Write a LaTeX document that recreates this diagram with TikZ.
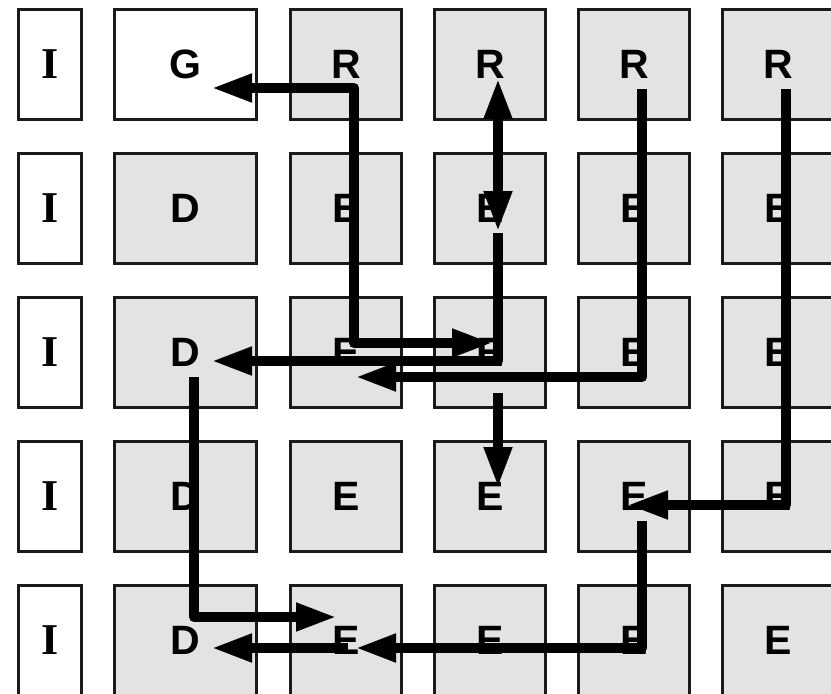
\documentclass[tikz,border=0pt]{standalone}
\usepackage{fontspec}
\setmainfont{Liberation Serif}
\newfontfamily\cellsans{Liberation Sans}
\usetikzlibrary{arrows.meta}
\definecolor{cellgray}{HTML}{E3E3E3}
\definecolor{edgec}{HTML}{1A1A1A}
\tikzset{
  cell/.style={draw=edgec, line width=2.6pt, fill=cellgray, minimum width=111.5pt,
    minimum height=110.5pt, inner sep=0pt, font=\cellsans\bfseries\fontsize{41}{41}\selectfont},
  widecell/.style={cell, minimum width=142.5pt},
  icell/.style={cell, fill=white, minimum width=63.5pt, font=\rmfamily\bfseries\fontsize{44}{44}\selectfont},
  gcell/.style={widecell, fill=white},
  flow/.style={line width=10pt, line join=round, line cap=butt},
  tip/.tip={Triangle[length=41pt,width=26pt]},
}
\begin{document}
\begin{tikzpicture}[x=1pt,y=-1pt]
\clip (0,0) rectangle (831,694);
% rows
\foreach \r/\y in {1/64.5,2/208.5,3/352.5,4/496.5,5/640.5}{
  \node[icell] (i\r) at (50,\y) {I};
}
\node[gcell] (c12) at (185.5,64.5) {G};
\foreach \r/\y in {2/208.5,3/352.5,4/496.5,5/640.5}{
  \node[widecell] (c\r2) at (185.5,\y) {D};
}
\foreach \c/\x in {3/346,4/490,5/634,6/778}{
  \node[cell] (c1\c) at (\x,64.5) {R};
  \foreach \r/\y in {2/208.5,3/352.5,4/496.5,5/640.5}{
    \node[cell] (c\r\c) at (\x,\y) {E};
  }
}
% path points
\coordinate (p1a) at (211,88);
\coordinate (p1b) at (354,88);
\coordinate (p1c) at (354,343);
\coordinate (p1d) at (493,343);
\coordinate (p2a) at (498,78);
\coordinate (p2b) at (498,232);
\coordinate (p3a) at (498,233);
\coordinate (p3b) at (498,361);
\coordinate (p3c) at (211,361);
\coordinate (p4a) at (642,89);
\coordinate (p4b) at (642,377);
\coordinate (p4c) at (355,377);
\coordinate (p5a) at (498,393);
\coordinate (p5b) at (498,488);
\coordinate (p6a) at (786,89);
\coordinate (p6b) at (786,505);
\coordinate (p6c) at (627,505);
\coordinate (p7a) at (642,521);
\coordinate (p7b) at (642,648);
\coordinate (p7c) at (355,648);
\coordinate (p8a) at (348,648);
\coordinate (p8b) at (211,648);
\coordinate (p9a) at (194,377);
\coordinate (p9b) at (194,617);
\coordinate (p9c) at (337,617);
% connectors
\draw[flow, tip-tip] (p1a) -- (p1b) -- (p1c) -- (p1d);
\draw[flow, tip-tip] (p2a) -- (p2b);
\draw[flow, -tip] (p3a) -- (p3b) -- (p3c);
\draw[flow, -tip] (p4a) -- (p4b) -- (p4c);
\draw[flow, -tip] (p5a) -- (p5b);
\draw[flow, -tip] (p6a) -- (p6b) -- (p6c);
\draw[flow, -tip] (p7a) -- (p7b) -- (p7c);
\draw[flow, -tip] (p8a) -- (p8b);
\draw[flow, -tip] (p9a) -- (p9b) -- (p9c);
\end{tikzpicture}
\end{document}
